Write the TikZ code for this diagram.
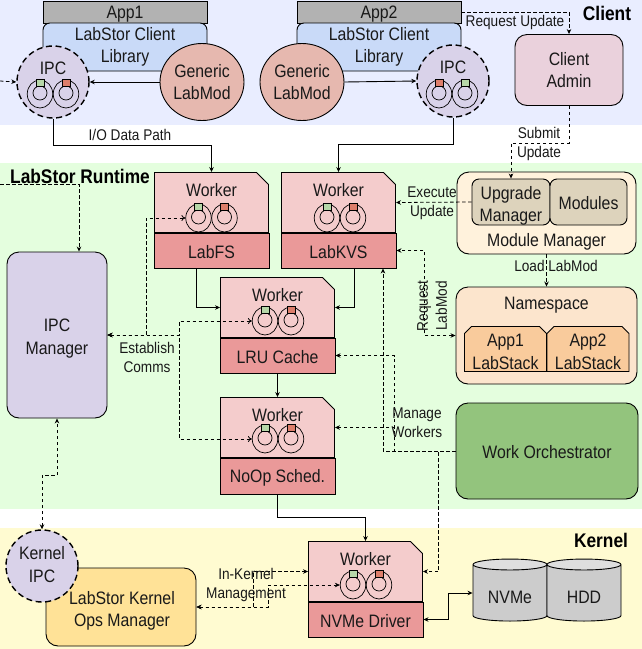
\documentclass[tikz,border=0pt]{standalone}
\usepackage{fontspec}
\setmainfont[FakeStretch=0.88]{Liberation Sans}
\usetikzlibrary{arrows.meta,shapes.geometric,shapes.misc}

\definecolor{clientbg}{HTML}{E9EDFF}
\definecolor{runtimebg}{HTML}{E4FEDE}
\definecolor{kernelbg}{HTML}{FFFBD1}
\definecolor{ipcfill}{HTML}{D9D2E9}
\definecolor{libfill}{HTML}{C9DAF8}
\definecolor{modfill}{HTML}{E6B8AF}
\definecolor{adminfill}{HTML}{EAD1DC}
\definecolor{workfill}{HTML}{F4CCCC}
\definecolor{namefill}{HTML}{EA9999}
\definecolor{mgrfill}{HTML}{FFF2DC}
\definecolor{partfill}{HTML}{DDD3BC}
\definecolor{nsfill}{HTML}{FCE5CD}
\definecolor{stackfill}{HTML}{F9CB9C}
\definecolor{orchfill}{HTML}{93C47D}
\definecolor{opsfill}{HTML}{FFE297}
\definecolor{ringgreen}{HTML}{B6D7A8}
\definecolor{ringred}{HTML}{DD7E6B}

\tikzset{
  txt/.style={font=\fontsize{18}{22.5}\selectfont, align=center, text=black!90, execute at begin node={\rule{0pt}{16pt}}},
  small/.style={font=\fontsize{15.5}{19}\selectfont, align=center, text=black!90},
  head/.style={font=\fontsize{19.7}{22}\selectfont\bfseries, text=black},
  band/.style={rectangle, minimum width=642pt, inner sep=0pt, outer sep=0pt},
  box/.style={rectangle, draw, line width=0.9pt, inner sep=0pt, txt},
  rbox/.style={box, rounded corners=7pt},
  bigbox/.style={box, rounded corners=12pt},
  ipcnode/.style={circle, draw, line width=1.4pt, dash pattern=on 6pt off 3.6pt, fill=ipcfill,
    minimum size=72pt, inner sep=0pt},
  modnode/.style={ellipse, draw, line width=0.9pt, fill=modfill, minimum width=84pt, minimum height=77pt,
    inner sep=0pt, txt},
  worker/.style={chamfered rectangle, chamfered rectangle corners=north east, chamfered rectangle xsep=6pt,
    chamfered rectangle ysep=6pt, execute at begin node={\phantom{\rule{102pt}{48pt}}},
    draw, line width=0.9pt, fill=workfill, minimum width=114pt, minimum height=60pt, inner sep=0pt,
    label={[txt, anchor=center, yshift=-16.5pt]north:Worker}},
  workname/.style={box, fill=namefill, minimum width=115pt, inner sep=0pt},
  stack/.style={chamfered rectangle, chamfered rectangle corners={north west,north east}, chamfered rectangle xsep=3.5pt,
    chamfered rectangle ysep=3.5pt, execute at begin node={\phantom{\rule{75pt}{38pt}}},
    draw, line width=0.9pt, fill=stackfill, minimum width=82pt, minimum height=45pt, inner sep=0pt},
  disk/.style={cylinder, shape border rotate=90, aspect=0.26, draw, line width=0.9pt, cylinder uses custom fill,
    execute at begin node={\phantom{\rule{42pt}{13pt}}},
    cylinder body fill=black!20, cylinder end fill=black!13, minimum width=74pt, minimum height=62pt, inner sep=0pt},
  ringout/.style={ellipse, draw, line width=0.7pt, minimum width=25.5pt, minimum height=28pt, inner sep=0pt},
  ringin/.style={circle, draw, line width=0.7pt, minimum size=14pt, inner sep=0pt},
  ringtop/.style={rectangle, draw, line width=0.5pt, minimum width=8pt, minimum height=7pt, inner sep=0pt},
  pics/rings/.style 2 args={code={
    \node[ringout] (-l) at (-13,0) {};
    \node[ringin] (-li) at (-13,-1) {};
    \node[ringtop, fill=#1] (-lt) at (-13,-11) {};
    \node[ringout] (-r) at (13,0) {};
    \node[ringin] (-ri) at (13,-1) {};
    \node[ringtop, fill=#2] (-rt) at (13,-11) {};
  }},
  flow/.style={line width=0.9pt, -{Stealth[length=5pt,width=4.5pt]}},
  dflow/.style={line width=0.8pt, dash pattern=on 3.5pt off 2.5pt, -{Stealth[length=5pt,width=4.5pt]}},
  both/.style={{Stealth[length=5pt,width=4.5pt]}-{Stealth[length=5pt,width=4.5pt]}},
  open/.style={line width=0.8pt, dash pattern=on 3.5pt off 2.5pt, {Stealth[length=5pt,width=4.5pt]}-{To[length=4pt,width=6pt]}},
}

\begin{document}
\begin{tikzpicture}[x=1pt,y=-1pt]
  \useasboundingbox (0,0) rectangle (642,649);

  % layers
  \node[band, minimum height=125pt, fill=clientbg] (clientband) at (321,62.5) {};
  \node[band, minimum height=346pt, fill=runtimebg] (runtimeband) at (321,336) {};
  \node[band, minimum height=121pt, fill=kernelbg] (kernelband) at (321,588.5) {};

  % client side
  \node[box, fill=black!30, minimum width=164pt, minimum height=22pt] (app1) at (125,12) {App1};
  \node[rbox, fill=libfill, minimum width=164pt, minimum height=48pt] (lib1) at (125,47) {LabStor Client\\Library};
  \node[box, fill=black!30, minimum width=164pt, minimum height=22pt] (app2) at (379,12) {App2};
  \node[rbox, fill=libfill, minimum width=164pt, minimum height=48pt] (lib2) at (379,47) {LabStor Client\\Library};
  \node[ipcnode] (ipc1) at (53,82) {};
  \node[txt] (ipc1txt) at (53,67) {IPC};
  \pic (ring1) at (53,94) {rings={ringgreen}{ringred}};
  \node[ipcnode] (ipc2) at (453,81) {};
  \node[txt] (ipc2txt) at (453,66) {IPC};
  \pic (ring2) at (452,94) {rings={ringred}{ringgreen}};
  \node[modnode] (mod1) at (202,82) {Generic\\LabMod};
  \node[modnode] (mod2) at (302,82) {Generic\\LabMod};
  \node[bigbox, fill=adminfill, minimum width=108pt, minimum height=71pt] (admin) at (569,70) {Client\\Admin};
  \node[head] (clienthd) at (607,13) {Client};

  % runtime workers
  \node[worker] (fsw) at (211.5,202.5) {};
  \node[workname, minimum height=35pt] (fsname) at (211.5,250.5) {LabFS};
  \pic (ringfs) at (211.5,218) {rings={ringgreen}{ringred}};
  \node[worker] (kvsw) at (338.5,202.5) {};
  \node[workname, minimum height=35pt] (kvsname) at (338.5,250.5) {LabKVS};
  \pic (ringkvs) at (340,218) {rings={ringgreen}{ringred}};
  \node[worker] (lruw) at (277.5,307.5) {};
  \node[workname, minimum height=35pt] (lruname) at (277.5,355.5) {LRU Cache};
  \pic (ringlru) at (278,321) {rings={ringgreen}{ringred}};
  \node[worker] (noopw) at (277.5,427.5) {};
  \node[workname, minimum height=36pt] (noopname) at (277.5,476) {NoOp Sched.};
  \pic (ringnoop) at (278,439) {rings={ringgreen}{ringred}};

  \node[bigbox, fill=ipcfill, minimum width=100pt, minimum height=166pt] (ipcman) at (57,335) {};
  \node[txt] (ipcmantxt) at (57,338.5) {IPC\\Manager};

  % module manager and namespace
  \node[bigbox, fill=mgrfill, minimum width=179pt, minimum height=82pt] (modman) at (546.5,213) {};
  \node[txt] (modmantxt) at (546.5,240.5) {Module Manager};
  \node[rbox, fill=partfill, minimum width=78pt, minimum height=46pt] (upgrade) at (511,202) {};
  \node[txt] (upgradetxt) at (511,206) {Upgrade\\Manager};
  \node[rbox, fill=partfill, minimum width=77pt, minimum height=46pt] (modules) at (588.5,202) {Modules};
  \node[bigbox, fill=nsfill, minimum width=181pt, minimum height=97pt] (nspace) at (546.5,335.5) {};
  \node[txt] (nspacetxt) at (546.5,303.5) {Namespace};
  \node[stack] (stack1) at (505.5,349) {};
  \node[txt] (stack1txt) at (505.5,352) {App1\\LabStack};
  \node[stack] (stack2) at (588,349) {};
  \node[txt] (stack2txt) at (588,352) {App2\\LabStack};
  \node[bigbox, fill=orchfill, minimum width=182pt, minimum height=96pt] (orch) at (547,451) {Work Orchestrator};
  \node[head] (runtimehd) at (80,176) {LabStor Runtime};

  % kernel side
  \node[bigbox, fill=opsfill, minimum width=150pt, minimum height=78pt] (ops) at (121,607) {};
  \node[txt] (opstxt) at (122,611) {LabStor Kernel\\Ops Manager};
  \node[ipcnode] (kipc) at (42,566) {};
  \node[txt] (kipctxt) at (42,564.5) {Kernel\\IPC};
  \node[worker] (nvw) at (365.5,571.5) {};
  \node[workname, minimum height=35pt] (nvname) at (365.5,619.5) {NVMe Driver};
  \pic (ringnv) at (366,585) {rings={ringgreen}{ringred}};
  \node[disk] (nvme) at (510,593) {};
  \node[disk] (hdd) at (584,593) {};
  \node[txt] (nvmetxt) at (510,595.5) {NVMe};
  \node[txt] (hddtxt) at (584,595.5) {HDD};
  \node[head] (kernelhd) at (601,540) {Kernel};

  \coordinate (wrapl) at (0,81);
  \coordinate (wrapr) at (0,184);

  % solid paths
  \draw[flow] (mod1.west) -- (ipc1.east);
  \draw[flow] (mod2.east) -- (ipc2.west);
  \draw[flow] (ipc1.south) -- ++(0,27) -| (fsw.north);
  \draw[flow] (ipc2.south) -- ++(0,27) -| (kvsw.north);
  \draw[flow] ([xshift=-15.5pt]fsname.south) |- (lruw.west);
  \draw[flow] ([xshift=15.5pt]kvsname.south) |- (lruw.east);
  \draw[flow] (lruname.south) -- (noopw.north);
  \draw[flow] (noopname.south) -- ++(0,23) -| (nvw.north);
  \draw[flow, both] (nvname.east) -- ++(25,0) |- (nvme.west);

  % dashed paths
  \draw[dflow] (wrapl) -- (ipc1.west);
  \draw[dflow] (wrapr) -| ([xshift=22pt]ipcman.north);
  \draw[dflow] (app2.east) -| (admin.north);
  \draw[dflow] (admin.south) -- ++(0,37) -| (upgrade.north);
  \draw[dflow] (upgrade.west) -- (kvsw.east);
  \draw[dflow] (modman.south) -- (nspace.north);
  \draw[dflow, both] (nspace.west) -- ++(-31,0) |- (kvsname.east);
  \draw[dflow, both] (kipc.north) -- ++(0,-54) -| (ipcman.south);
  \draw[open] (ipcman.east) -- ++(39,0) |- (ringfs-l.west);
  \draw[open] (ipcman.east) -- ++(72,0) |- (ringlru-l.west);
  \draw[open] (ipcman.east) -- ++(72,0) |- (ringnoop-l.west);
  \draw[dflow] (orch.west) -| ([xshift=44.5pt]kvsname.south);
  \draw[dflow] (orch.west) -- ++(-61,0) |- (lruname.east);
  \draw[dflow] (orch.west) -- ++(-61,0) |- (noopw.east);
  \draw[dflow] (orch.west) -- ++(-17,0) |- (nvw.east);
  \draw[dflow, both] (ops.east) -- ++(57,0) |- (nvw.west);
  \draw[dflow, both] (ops.east) -- ++(72,0) |- (ringnv-l.west);

  % path labels
  \node[small] (iolbl) at (130,135) {I/O Data Path};
  \node[small] (requplbl) at (515,22) {Request Update};
  \node[small] (submitlbl) at (539,143.5) {Submit\\Update};
  \node[small] (execlbl) at (432,203.5) {Execute\\Update};
  \node[small] (loadlbl) at (556,266) {Load LabMod};
  \node[small, rotate=90] (reqmodlbl) at (432,306) {Request\\LabMod};
  \node[small] (estlbl) at (147,357) {Establish\\Comms};
  \node[small] (managelbl) at (417,423) {Manage\\Workers};
  \node[small] (kernlbl) at (246,585) {In-Kernel\\Management};
\end{tikzpicture}
\end{document}
